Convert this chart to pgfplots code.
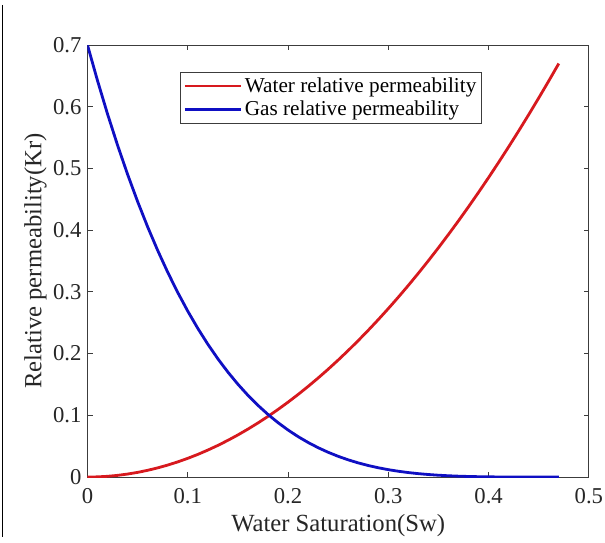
\documentclass[border=0pt]{standalone}
\usepackage{fontspec}
\setmainfont{Liberation Serif}
\usepackage{pgfplots}
\pgfplotsset{compat=1.18}
\usepackage{pgfplotstable}
\pgfplotstableread{
S krw krg
0.00 0.000000 0.70000
0.01 0.000303 0.64230
0.02 0.001213 0.58824
0.03 0.002730 0.53767
0.04 0.004853 0.49043
0.05 0.007583 0.44638
0.06 0.010919 0.40536
0.07 0.014862 0.36724
0.08 0.019411 0.33187
0.09 0.024568 0.29912
0.10 0.030330 0.26885
0.11 0.036700 0.24094
0.12 0.043676 0.21527
0.13 0.051258 0.19170
0.14 0.059448 0.17012
0.15 0.068244 0.15042
0.16 0.077646 0.13248
0.17 0.087655 0.11620
0.18 0.098271 0.10146
0.19 0.109493 0.08817
0.20 0.121322 0.07624
0.21 0.133757 0.06555
0.22 0.146800 0.05604
0.23 0.160448 0.04759
0.24 0.174703 0.04014
0.25 0.189565 0.03360
0.26 0.205033 0.02790
0.27 0.221109 0.02295
0.28 0.237791 0.01869
0.29 0.255079 0.01506
0.30 0.272974 0.01198
0.31 0.291475 0.00940
0.32 0.310584 0.00726
0.33 0.330299 0.00551
0.34 0.350620 0.00410
0.35 0.371548 0.00297
0.36 0.393082 0.00210
0.37 0.415224 0.00143
0.38 0.437972 0.00094
0.39 0.461327 0.00059
0.40 0.485288 0.00034
0.41 0.509855 0.00019
0.42 0.535029 0.00009
0.43 0.560811 0.00004
0.44 0.587198 0.00001
0.45 0.614192 0.00000
0.46 0.641792 0.00000
0.47 0.670000 0.00000
}\krdata
\definecolor{wred}{RGB}{215,25,30}
\definecolor{gblue}{RGB}{15,15,195}
\definecolor{axgray}{RGB}{60,60,60}
\begin{document}
\begin{tikzpicture}
\path[use as bounding box] (-65.6pt,-48.75pt) rectangle (388.1pt,357.75pt);
\draw[black, line width=0.9pt] (-63.5pt,354pt) -- (-63.5pt,-45pt);
\begin{axis}[
  at={(0pt,0pt)}, anchor=origin,
  scale only axis,
  width=376pt, height=324pt,
  xmin=0, xmax=0.5, ymin=0, ymax=0.7,
  xtick={0,0.1,0.2,0.3,0.4,0.5},
  ytick={0,0.1,0.2,0.3,0.4,0.5,0.6,0.7},
  tick align=inside,
  major tick length=4pt,
  axis line style={axgray, line width=0.6pt},
  every tick/.style={axgray, line width=0.6pt},
  /pgf/number format/assume math mode=true,
  ticklabel style={font=\fontsize{17}{19}\selectfont, text=black!85},
  xticklabel style={yshift=-5pt},
  yticklabel style={xshift=-1pt},
  xlabel={Water Saturation(Sw)},
  ylabel={Relative permeability(Kr)},
  label style={font=\fontsize{18.5}{20}\selectfont, text=black!85},
  xlabel style={yshift=-1pt},
  ylabel style={yshift=-2pt},
  legend style={at={(0.1854,0.9375)}, anchor=north west, draw=axgray, line width=0.5pt,
    font=\fontsize{15.9}{18}\selectfont, inner xsep=2pt, inner ysep=2pt,
    row sep=1pt, cells={anchor=west}},
  legend image code/.code={\draw[#1] (0pt,0pt) -- (42pt,0pt);},
]
\addplot[wred, line width=2.1pt] table[x=S, y=krw] {\krdata};
\addlegendentry{Water relative permeability}
\addplot[gblue, line width=2.1pt] table[x=S, y=krg] {\krdata};
\addlegendentry{Gas relative permeability}
\end{axis}
\end{tikzpicture}
\end{document}
